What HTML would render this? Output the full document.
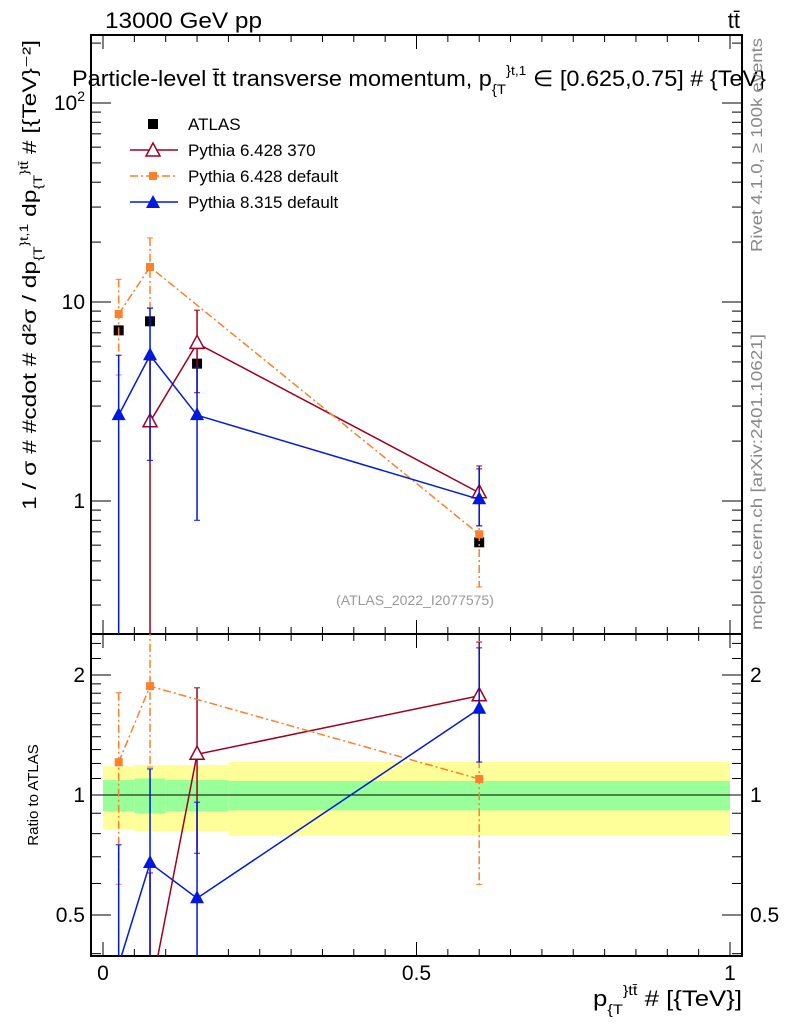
<!DOCTYPE html>
<html><head><meta charset="utf-8"><style>
html,body{margin:0;padding:0;background:#fff;width:786px;height:1024px;overflow:hidden}
svg{display:block;font-family:"Liberation Sans",sans-serif;overflow:hidden}
</style></head><body>
<svg id="c" width="786" height="1024">
<text x="105" y="28" font-size="22" textLength="157" lengthAdjust="spacingAndGlyphs">13000 GeV pp</text>
<text x="740" y="28" font-size="22" text-anchor="end">tt̄</text>
<text x="72" y="86" font-size="22" textLength="694" lengthAdjust="spacingAndGlyphs">Particle-level t̄t transverse momentum, p<tspan font-size="14" dy="8">{T</tspan><tspan font-size="14" dy="-19">}<tspan font-size="13">t,1</tspan></tspan><tspan dy="11"> ∈ [0.625,0.75] # {TeV}</tspan></text>
<text transform="translate(36,510) rotate(-90)" font-size="19" textLength="470" lengthAdjust="spacingAndGlyphs">1 / σ # #cdot # d²σ / dp<tspan font-size="12" dy="6">{T</tspan><tspan font-size="12" dy="-14">}t,1</tspan><tspan dy="8"> dp</tspan><tspan font-size="12" dy="6">{T</tspan><tspan font-size="12" dy="-14">}tt̄</tspan><tspan dy="8"> # [{TeV}⁻²]</tspan></text>
<text transform="translate(38,795) rotate(-90)" font-size="15" text-anchor="middle">Ratio to ATLAS</text>
<text transform="translate(762,252) rotate(-90)" font-size="16" fill="#888" textLength="214" lengthAdjust="spacingAndGlyphs">Rivet 4.1.0, ≥ 100k events</text>
<text transform="translate(762,630) rotate(-90)" font-size="16" fill="#888" textLength="296" lengthAdjust="spacingAndGlyphs">mcplots.cern.ch [arXiv:2401.10621]</text>
<text x="415" y="605" font-size="14" fill="#999" text-anchor="middle">(ATLAS_2022_I2077575)</text>
<text x="593" y="1006" font-size="22" textLength="149" lengthAdjust="spacingAndGlyphs">p<tspan font-size="14" dy="8">{T</tspan><tspan font-size="14" dy="-19">}tt̄</tspan><tspan dy="11"> # [{TeV}]</tspan></text>
<g id="g"></g>
</svg>
<script>
const xs=[0.025,0.075,0.15,0.6];
const atlas=[7.2,8.0,4.9,0.62];
const p370=[null,2.5,6.2,1.1];
const p370Up=[null,5.1,9.1,1.5];
const p370Dn=[null,0.01,3.5,0.75];
const p6def=[8.7,15,null,0.68];
const p6defUp=[13,21,null,1.0];
const p6defDn=[4.3,9.4,null,0.37];
const p8=[2.7,5.4,2.7,1.02];
const p8Up=[5.4,9.3,4.7,1.45];
const p8Dn=[0.01,1.6,0.8,0.75];
const binEdges=[0,0.05,0.1,0.2,1.0];
const bandYellow=[0.18,0.19,0.19,0.21];
const bandGreen=[0.09,0.1,0.09,0.085];
const xTicks=[0,0.5,1];
const yTicks=[1,10,100];
const rTicks=[0.5,1,2];

const NS="http://www.w3.org/2000/svg";
const g=document.getElementById('g');
const L=91,R=742,T=35,M=634,B=956;
const X=v=>103+627*v;
const Y=v=>501-199*Math.log10(v);
const RY=v=>795-398.7*Math.log10(v);
function el(t,a,p){const e=document.createElementNS(NS,t);for(const k in a)e.setAttribute(k,a[k]);(p||g).appendChild(e);return e;}
const clipM=el('clipPath',{id:'cm'});el('rect',{x:L,y:T,width:R-L,height:M-T},clipM);
const clipR=el('clipPath',{id:'cr'});el('rect',{x:L,y:M,width:R-L,height:B-M},clipR);
for(let i=0;i<4;i++){
 const x0=X(binEdges[i]),x1=X(binEdges[i+1]);
 const b1=el('rect',{x:x0,y:RY(1+bandYellow[i]),width:x1-x0,height:RY(1-bandYellow[i])-RY(1+bandYellow[i]),fill:'#ffff99'});
 
 
 const b2=el('rect',{x:x0,y:RY(1+bandGreen[i]),width:x1-x0,height:RY(1-bandGreen[i])-RY(1+bandGreen[i]),fill:'#99ff99'});
 
 
}
el('line',{x1:X(0),x2:X(1),y1:RY(1),y2:RY(1),stroke:'#000','stroke-width':1});
el('rect',{x:L,y:T,width:R-L,height:M-T,fill:'none',stroke:'#000','stroke-width':2});
el('rect',{x:L,y:M,width:R-L,height:B-M,fill:'none',stroke:'#000','stroke-width':2});
for(let v=0;v<=1.0001;v+=0.05){
 const maj=Math.abs(v*2-Math.round(v*2))<1e-6;const len=maj?14:7;
 for(const [y0,d] of [[T,1],[M,-1],[M,1],[B,-1]]) el('line',{x1:X(v),x2:X(v),y1:y0,y2:y0+d*len,stroke:'#000','stroke-width':1});
}
xTicks.forEach(v=>{const t=el('text',{x:X(v),y:980,'font-size':21,'text-anchor':'middle'});t.textContent=v;
 
 });
for(let d=-1;d<=2;d++)for(let k=1;k<10;k++){const v=k*Math.pow(10,d);const y=Y(v);if(y<T||y>M)continue;
 const len=k==1?20:10;el('line',{x1:L,x2:L+len,y1:y,y2:y,stroke:'#000'});el('line',{x1:R,x2:R-len,y1:y,y2:y,stroke:'#000'});}
yTicks.forEach(v=>{const t=el('text',{x:L-6,y:Y(v)+7,'font-size':21,'text-anchor':'end'});
 if(v==100){t.textContent='10';const s=el('tspan',{'font-size':14,dy:-9},t);s.textContent='2';}else t.textContent=v;
 
 });
[0.4,0.5,0.6,0.7,0.8,0.9,1,1.1,1.2,1.3,1.4,1.5,1.6,1.7,1.8,1.9,2,2.2,2.4].forEach(v=>{const y=RY(v);if(y<M||y>B)return;
 const len=(v==0.5||v==1||v==2)?20:10;el('line',{x1:L,x2:L+len,y1:y,y2:y,stroke:'#000'});el('line',{x1:R,x2:R-len,y1:y,y2:y,stroke:'#000'});});
rTicks.forEach(v=>{const t=el('text',{x:L-6,y:RY(v)+7,'font-size':21,'text-anchor':'end'});t.textContent=v;
 
 
 const t2=el('text',{x:R+8,y:RY(v)+7,'font-size':21});t2.textContent=v;
 
 });
const mg=el('g',{'clip-path':'url(#cm)'}),rg=el('g',{'clip-path':'url(#cr)'});
function marker(par,type,x,y,col){
 if(type=='sq')return el('rect',{x:x-5,y:y-5,width:10,height:10,fill:col},par);
 if(type=='osq')return el('rect',{x:x-4,y:y-4,width:8,height:8,fill:col},par);
 if(type=='tri')return el('polygon',{points:`${x},${y-8} ${x-7},${y+5} ${x+7},${y+5}`,fill:col},par);
 return el('polygon',{points:`${x},${y-8} ${x-7},${y+5} ${x+7},${y+5}`,fill:'#fff',stroke:col,'stroke-width':1.5},par);
}
function series(name,vals,up,dn,col,type,dash,ratio){
 const par=ratio?rg:mg;const fy=ratio?RY:Y;
 const v=vals.map((a,i)=>a==null?null:(ratio?a/atlas[i]:a));
 const u=up.map((a,i)=>a==null?null:(ratio?a/atlas[i]:a));
 const d=dn.map((a,i)=>a==null?null:(ratio?a/atlas[i]:a));
 const pts=[];v.forEach((a,i)=>{if(a!=null)pts.push(X(xs[i])+','+fy(a));});
 const pl=el('polyline',{points:pts.join(' '),fill:'none',stroke:col,'stroke-width':1.5,'stroke-dasharray':dash||'none'},par);
 
 
 v.forEach((a,i)=>{if(a==null)return;const x=X(xs[i]);
  el('line',{x1:x,x2:x,y1:fy(u[i]),y2:fy(d[i]),stroke:col,'stroke-width':1.5,'stroke-dasharray':dash||'none'},par);
  el('line',{x1:x-3,x2:x+3,y1:fy(u[i]),y2:fy(u[i]),stroke:col},par);
  el('line',{x1:x-3,x2:x+3,y1:fy(d[i]),y2:fy(d[i]),stroke:col},par);
  const m=marker(par,type,x,fy(a),col);
  
  });
}
atlas.forEach((a,i)=>{const m=marker(mg,'sq',X(xs[i]),Y(a),'#000');
 
 });
for(const r of [false,true]){
 series('pythia6-370',p370,p370Up,p370Dn,'#a00020','otri',null,r);
 series('pythia6-default',p6def,p6defUp,p6defDn,'#ff7f2a','osq','8,3,2,3',r);
 series('pythia8-default',p8,p8Up,p8Dn,'#0018e0','tri',null,r);
}
const lg=el('g',{});


const items=[['ATLAS','#000','sq',null,'legend-atlas'],['Pythia 6.428 370','#a00020','otri','none','legend-pythia6-370'],['Pythia 6.428 default','#ff7f2a','osq','8,3,2,3','legend-pythia6-default'],['Pythia 8.315 default','#0018e0','tri','none','legend-pythia8-default']];
items.forEach((it,i)=>{const y=124+26*i;
 if(it[3])el('line',{x1:130,x2:178,y1:y,y2:y,stroke:it[1],'stroke-width':1.5,'stroke-dasharray':it[3]},lg);
 marker(lg,it[2],153,y+(it[2].includes('tri')?1:0),it[1]);
 const t=el('text',{x:188,y:y+6,'font-size':17},lg);t.textContent=it[0];
 
 });
</script>
</body></html>
